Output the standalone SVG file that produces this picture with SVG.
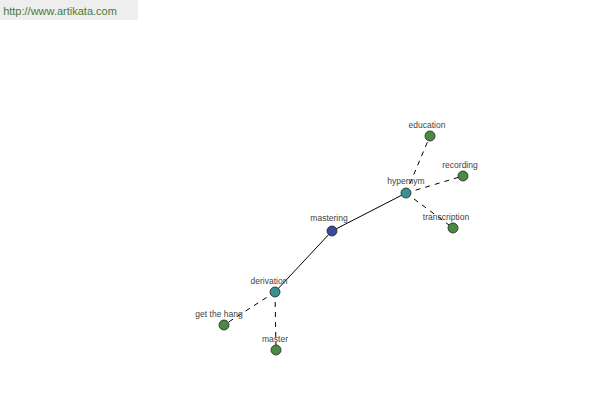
<svg xmlns="http://www.w3.org/2000/svg" width="600" height="400" viewBox="0 0 600 400">
<style>
text{font-family:"Liberation Sans",Arial,sans-serif;font-size:8.5px;fill:#444;text-anchor:middle}
.d{stroke:#000;stroke-width:1;stroke-dasharray:5,5;fill:none}
.s{stroke:#000;stroke-width:1;fill:none}
circle{stroke:#222;stroke-width:0.8}
.g{fill:#4a8a44}.t{fill:#3a9190}.b{fill:#3a4a9a}
</style>
<rect x="0" y="0" width="138" height="20" fill="#eeeeee"/>
<text x="60" y="15" style="font-size:11px;fill:#4a7a3a">http://www.artikata.com</text>
<g id="connectors">
<line class="s" x1="332" y1="231" x2="406" y2="193"/>
<line class="s" x1="332" y1="231" x2="275" y2="292"/>
<line class="d" x1="406" y1="193" x2="430" y2="136"/>
<line class="d" x1="406" y1="193" x2="463" y2="176"/>
<line class="d" x1="406" y1="193" x2="453" y2="228"/>
<line class="d" x1="275" y1="292" x2="224" y2="325"/>
<line class="d" x1="275" y1="292" x2="276" y2="350"/>
</g>
<g id="mastering"><circle class="b" cx="332" cy="231" r="5"/><text x="329" y="221">mastering</text></g>
<g id="hypernym"><circle class="t" cx="406" cy="193" r="5"/><text x="406" y="184">hypernym</text></g>
<g id="derivation"><circle class="t" cx="275" cy="292" r="5"/><text x="269" y="284">derivation</text></g>
<g id="education"><circle class="g" cx="430" cy="136" r="5"/><text x="427" y="128">education</text></g>
<g id="recording"><circle class="g" cx="463" cy="176" r="5"/><text x="460" y="168">recording</text></g>
<g id="transcription"><circle class="g" cx="453" cy="228" r="5"/><text x="446" y="220">transcription</text></g>
<g id="get-the-hang"><circle class="g" cx="224" cy="325" r="5"/><text x="219" y="317">get the hang</text></g>
<g id="master"><circle class="g" cx="276" cy="350" r="5"/><text x="275" y="342">master</text></g>
</svg>
